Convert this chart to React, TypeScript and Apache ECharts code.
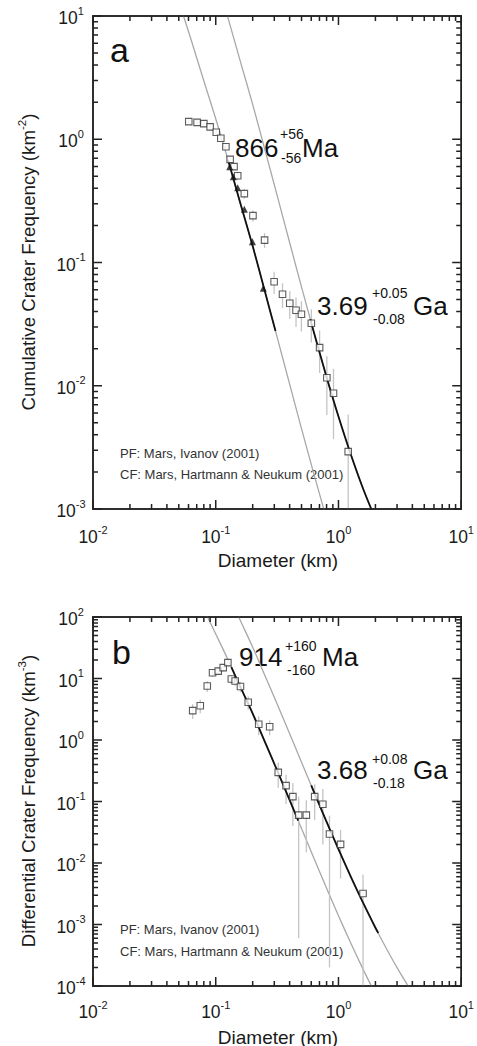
import React, { useEffect, useRef } from 'react';
import * as echarts from 'echarts';

const FONT = '"Liberation Sans", Arial, Helvetica, sans-serif';

// ---------- Panel a: cumulative crater frequency ----------
const cumDiam = [0.0603, 0.0705, 0.080, 0.090, 0.101, 0.110, 0.121, 0.131, 0.141, 0.151, 0.171, 0.201, 0.250, 0.299, 0.350, 0.401, 0.451, 0.499, 0.601, 0.702, 0.804, 0.911, 1.20];
const cumFreq = [1.39, 1.37, 1.34, 1.26, 1.14, 1.02, 0.87, 0.687, 0.60, 0.506, 0.362, 0.24, 0.152, 0.0698, 0.0552, 0.0467, 0.041, 0.038, 0.0321, 0.0204, 0.0116, 0.0087, 0.00292];
const cumErr = [0.06, 0.06, 0.06, 0.06, 0.06, 0.05, 0.05, 0.045, 0.042, 0.038, 0.033, 0.026, 0.021, 0.0143, 0.0127, 0.0117, 0.011, 0.0105, 0.0097, 0.0077, 0.0058, 0.005, 0.00292];

const pfDiam = [0.130, 0.139, 0.151, 0.171, 0.199, 0.244];
const pfFreq = [0.598, 0.497, 0.404, 0.270, 0.1476, 0.0618];

const isoYoungCumD = [0.05, 0.063, 0.079, 0.1, 0.126, 0.158, 0.2, 0.251, 0.316, 0.398, 0.501, 0.631, 0.794];
const isoYoungCumN = [13.2, 6.41, 3.10, 1.466, 0.679, 0.307, 0.136, 0.0586, 0.0249, 0.0105, 0.00445, 0.00192, 0.000853];
const fitYoungCumD = [0.126, 0.158, 0.2, 0.251, 0.307];
const fitYoungCumN = [0.679, 0.307, 0.136, 0.0586, 0.0278];
const isoOldCumD = [0.1, 0.126, 0.158, 0.2, 0.251, 0.316, 0.398, 0.501, 0.631, 0.794, 1.0, 1.259, 1.585, 1.995];
const isoOldCumN = [20.7, 9.6, 4.34, 1.92, 0.828, 0.352, 0.148, 0.0628, 0.0271, 0.01205, 0.00562, 0.00278, 0.001466, 0.000834];
const fitOldCumD = [0.59, 0.631, 0.794, 1.0, 1.259, 1.585, 1.995];
const fitOldCumN = [0.0346, 0.0271, 0.01205, 0.00562, 0.00278, 0.001466, 0.000834];

// ---------- Panel b: differential crater frequency ----------
const diffDiam = [0.0649, 0.0748, 0.0853, 0.0942, 0.1047, 0.115, 0.1256, 0.134, 0.144, 0.159, 0.184, 0.224, 0.275, 0.323, 0.374, 0.425, 0.474, 0.547, 0.64, 0.746, 0.845, 1.04, 1.585];
const diffFreq = [3.0, 3.61, 7.55, 12.4, 13.2, 15.0, 18.1, 9.8, 9.1, 7.4, 4.1, 1.8, 1.64, 0.298, 0.181, 0.12, 0.060, 0.060, 0.12, 0.09, 0.0296, 0.0201, 0.0032];
const diffErr = [0.8, 0.9, 1.5, 1.8, 1.9, 2.0, 2.2, 1.6, 1.5, 1.4, 1.0, 0.6, 0.45, 0.13, 0.09, 0.08, 0.0594, 0.045, 0.07, 0.07, 0.0294, 0.0145, 0.0033];

const isoYoungDiffD = [0.0794, 0.1, 0.126, 0.158, 0.2, 0.251, 0.316, 0.398, 0.501, 0.631, 0.794, 1.0, 1.259, 1.585, 1.995];
const isoYoungDiffN = [137, 53.0, 20.1, 7.43, 2.69, 0.942, 0.322, 0.108, 0.0359, 0.01194, 0.00403, 0.00139, 0.0005, 0.000188, 0.0000743];
const fitYoungDiffD = [0.134, 0.158, 0.2, 0.251, 0.316, 0.398, 0.47];
const fitYoungDiffN = [15.3, 7.43, 2.69, 0.942, 0.322, 0.108, 0.049];
const isoOldDiffD = [0.126, 0.158, 0.2, 0.251, 0.316, 0.398, 0.501, 0.631, 0.794, 1.0, 1.259, 1.585, 1.995, 2.512, 3.162, 3.981];
const isoOldDiffN = [242, 89.3, 32.3, 11.3, 3.87, 1.30, 0.431, 0.1435, 0.0484, 0.01675, 0.00601, 0.00226, 0.000893, 0.000375, 0.0001667, 0.0000789];
const fitOldDiffD = [0.6, 0.631, 0.794, 1.0, 1.259, 1.585, 1.995, 2.11];
const fitOldDiffN = [0.183, 0.1435, 0.0484, 0.01675, 0.00601, 0.00226, 0.000893, 0.000726];

// ---------- Axis ticks ----------
const xMajorTicks = [0.01, 0.1, 1, 10];
const yMajorTicksA = [0.001, 0.01, 0.1, 1, 10];
const yMajorTicksB = [0.0001, 0.001, 0.01, 0.1, 1, 10, 100];
const minorMultipliers = [2, 3, 4, 5, 6, 7, 8, 9];

const zip = (xs: number[], ys: number[]) => xs.map((x, i) => [x, ys[i]]);
const minorsOf = (majors: number[]) => {
  const out: number[] = [];
  for (let i = 0; i < majors.length - 1; i++) minorMultipliers.forEach((m) => out.push(+(majors[i] * m).toPrecision(3)));
  return out;
};

const MAJ = 9;
const MIN = 5;

// Each side of the frame is drawn as one "comb" polyline through the axis scale:
// it runs along the frame edge and steps inward at every decade and 2..9 sub-tick.
function combSeries(idx: number, xMaj: number[], yMaj: number[], xMin: number, xMax: number, yMin: number, yMax: number) {
  const xTicks = [...xMaj.map((v) => [v, MAJ]), ...minorsOf(xMaj).map((v) => [v, MIN])].sort((a, b) => a[0] - b[0]);
  const yTicks = [...yMaj.map((v) => [v, MAJ]), ...minorsOf(yMaj).map((v) => [v, MIN])].sort((a, b) => a[0] - b[0]);
  const midX = Math.sqrt(xMin * xMax);
  const midY = Math.sqrt(yMin * yMax);
  return {
    type: 'custom',
    xAxisIndex: idx,
    yAxisIndex: idx,
    data: [[midX, midY, 0], [midX, midY, 1], [midX, midY, 2], [midX, midY, 3]],
    silent: true,
    z: 10,
    renderItem: (_p: any, api: any) => {
      const side = api.value(2);
      const pts: number[][] = [];
      if (side === 0 || side === 1) {
        const yv = side === 0 ? yMin : yMax;
        const dir = side === 0 ? -1 : 1;
        xTicks.forEach(([v, len]) => {
          const p = api.coord([v, yv]);
          pts.push([p[0], p[1]], [p[0], p[1] + dir * len], [p[0], p[1]]);
        });
      } else {
        const xv = side === 2 ? xMin : xMax;
        const dir = side === 2 ? 1 : -1;
        yTicks.forEach(([v, len]) => {
          const p = api.coord([xv, v]);
          pts.push([p[0], p[1]], [p[0] + dir * len, p[1]], [p[0], p[1]]);
        });
      }
      return { type: 'polyline', shape: { points: pts }, style: { stroke: '#222', lineWidth: 1.5, fill: null } };
    },
  };
}

function errSeries(idx: number, ds: number[], ns: number[], es: number[], yMin: number) {
  return {
    type: 'custom',
    xAxisIndex: idx,
    yAxisIndex: idx,
    data: ds.map((d, i) => [d, ns[i], es[i]]),
    silent: true,
    z: 3,
    renderItem: (_p: any, api: any) => {
      const d = api.value(0);
      const n = api.value(1);
      const e = api.value(2);
      const lo = n - e > yMin ? n - e : yMin;
      const p1 = api.coord([d, lo]);
      const p2 = api.coord([d, n + e]);
      return { type: 'line', shape: { x1: p1[0], y1: p1[1], x2: p2[0], y2: p2[1] }, style: { stroke: '#c4c4c4', lineWidth: 1.3 } };
    },
  };
}

const lineSeries = (idx: number, ds: number[], ns: number[], color: string, width: number, z: number) => ({
  type: 'line',
  xAxisIndex: idx,
  yAxisIndex: idx,
  data: zip(ds, ns),
  showSymbol: false,
  smooth: 0.3,
  silent: true,
  z,
  lineStyle: { color, width },
});

const squareSeries = (idx: number, ds: number[], ns: number[]) => ({
  type: 'scatter',
  xAxisIndex: idx,
  yAxisIndex: idx,
  data: zip(ds, ns),
  symbol: 'rect',
  symbolSize: 6.5,
  z: 6,
  itemStyle: { color: '#ffffff', borderColor: '#333', borderWidth: 1.1 },
});

const richLabel = {
  b: { fontSize: 17.5, fontFamily: FONT, color: '#1a1a1a', lineHeight: 22, verticalAlign: 'bottom' },
  s: { fontSize: 11, fontFamily: FONT, color: '#1a1a1a', lineHeight: 11, verticalAlign: 'top' },
};
const powLabel = (v: number) => `{b|10}{s|${Math.round(Math.log10(v))}}`;

const xAxisCfg = (idx: number, margin: number) => ({
  type: 'log',
  gridIndex: idx,
  logBase: 10,
  min: 0.01,
  max: 10,
  interval: 1,
  axisLine: { show: false },
  axisTick: { show: false },
  splitLine: { show: false },
  axisLabel: { formatter: powLabel, rich: richLabel, margin, align: 'center' },
});
const yAxisCfg = (idx: number, min: number, max: number) => ({
  type: 'log',
  gridIndex: idx,
  logBase: 10,
  min,
  max,
  interval: 1,
  axisLine: { show: false },
  axisTick: { show: false },
  splitLine: { show: false },
  axisLabel: { formatter: powLabel, rich: richLabel, margin: 22, align: 'center' },
});

const txt = (text: string, x: number, y: number, size: number, extra: any = {}) => ({
  type: 'text',
  x,
  y,
  silent: true,
  style: { text, fontSize: size, fontFamily: FONT, fill: extra.fill || '#111', align: extra.align || 'left', verticalAlign: 'middle', ...(extra.style || {}) },
  ...(extra.el || {}),
});

const supRich = { s: { fontSize: 11.5, fontFamily: FONT, fill: '#1a1a1a', lineHeight: 11, verticalAlign: 'top' } };

const option: any = {
  animation: false,
  backgroundColor: '#ffffff',
  grid: [
    { left: 93, top: 16, width: 370, height: 493, show: true, borderColor: '#222', borderWidth: 1.5, backgroundColor: 'transparent' },
    { left: 93, top: 617, width: 370, height: 369, show: true, borderColor: '#222', borderWidth: 1.5, backgroundColor: 'transparent' },
  ],
  xAxis: [xAxisCfg(0, 15), xAxisCfg(1, 13)],
  yAxis: [yAxisCfg(0, 0.001, 10), yAxisCfg(1, 0.0001, 100)],
  series: [
    lineSeries(0, isoYoungCumD, isoYoungCumN, '#a8a8a8', 1.3, 2),
    lineSeries(0, isoOldCumD, isoOldCumN, '#a8a8a8', 1.3, 2),
    errSeries(0, cumDiam, cumFreq, cumErr, 0.001),
    lineSeries(0, fitYoungCumD, fitYoungCumN, '#111', 1.8, 4),
    lineSeries(0, fitOldCumD, fitOldCumN, '#111', 1.8, 4),
    squareSeries(0, cumDiam, cumFreq),
    {
      type: 'scatter',
      xAxisIndex: 0,
      yAxisIndex: 0,
      data: zip(pfDiam, pfFreq),
      symbol: 'triangle',
      symbolSize: 7,
      z: 7,
      itemStyle: { color: '#111' },
    },
    combSeries(0, xMajorTicks, yMajorTicksA, 0.01, 10, 0.001, 10),
    lineSeries(1, isoYoungDiffD, isoYoungDiffN, '#a8a8a8', 1.3, 2),
    lineSeries(1, isoOldDiffD, isoOldDiffN, '#a8a8a8', 1.3, 2),
    errSeries(1, diffDiam, diffFreq, diffErr, 0.0001),
    lineSeries(1, fitYoungDiffD, fitYoungDiffN, '#111', 1.8, 4),
    lineSeries(1, fitOldDiffD, fitOldDiffN, '#111', 1.8, 4),
    squareSeries(1, diffDiam, diffFreq),
    combSeries(1, xMajorTicks, yMajorTicksB, 0.01, 10, 0.0001, 100),
  ],
  graphic: [
    // Panel a
    txt('a', 110, 50, 34),
    txt('866', 235, 148, 26),
    txt('+56', 280, 134, 14),
    txt('-56', 281, 158, 14),
    txt('Ma', 302, 148, 26),
    txt('3.69', 317, 306, 26),
    txt('+0.05', 372, 293, 14),
    txt('-0.08', 373, 319, 14),
    txt('Ga', 413, 306, 26),
    txt('PF: Mars, Ivanov (2001)', 120, 453, 13, { fill: '#333' }),
    txt('CF: Mars, Hartmann & Neukum (2001)', 120, 474, 13, { fill: '#333' }),
    txt('Diameter (km)', 278, 560, 19, { align: 'center', fill: '#1a1a1a' }),
    txt('Cumulative Crater Frequency (km{s|-2})', 28, 262, 18.7, {
      align: 'center',
      fill: '#1a1a1a',
      style: { rich: supRich, lineHeight: 24 },
      el: { rotation: Math.PI / 2 },
    }),
    // Panel b
    txt('b', 112, 652, 34),
    txt('914', 239, 657, 26),
    txt('+160', 285, 646, 14),
    txt('-160', 287, 670, 14),
    txt('Ma', 322, 657, 26),
    txt('3.68', 317, 770, 26),
    txt('+0.08', 372, 759, 14),
    txt('-0.18', 373, 783, 14),
    txt('Ga', 413, 770, 26),
    txt('PF: Mars, Ivanov (2001)', 120, 929, 13, { fill: '#333' }),
    txt('CF: Mars, Hartmann & Neukum (2001)', 120, 951, 13, { fill: '#333' }),
    txt('Diameter (km)', 278, 1037, 19, { align: 'center', fill: '#1a1a1a' }),
    txt('Differential Crater Frequency (km{s|-3})', 28, 801, 18.7, {
      align: 'center',
      fill: '#1a1a1a',
      style: { rich: supRich, lineHeight: 24 },
      el: { rotation: Math.PI / 2 },
    }),
  ],
};

export default function App() {
  const ref = useRef<HTMLDivElement>(null);
  useEffect(() => {
    document.body.style.margin = '0';
    const chart = echarts.init(ref.current as HTMLDivElement, null, { renderer: 'svg' });
    chart.setOption(option);
    return () => chart.dispose();
  }, []);
  return <div ref={ref} style={{ width: 477, height: 1046 }} />;
}
